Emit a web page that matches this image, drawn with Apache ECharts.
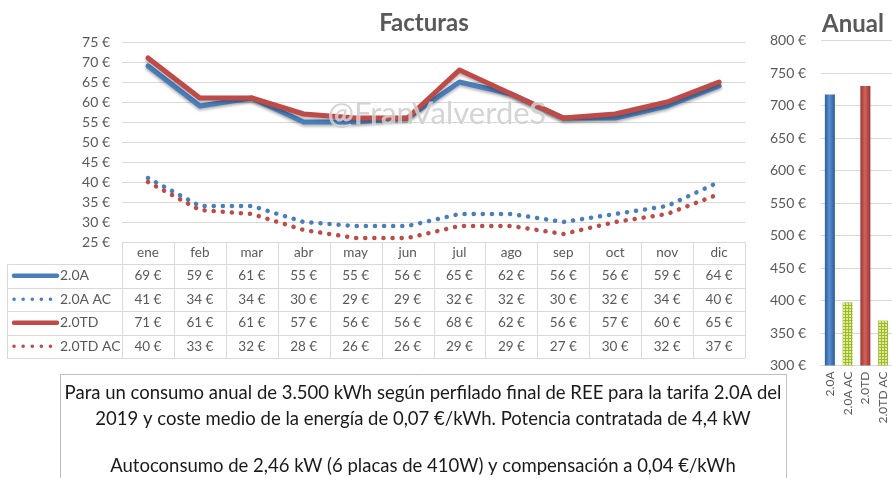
<!DOCTYPE html>
<html>
<head>
<meta charset="utf-8">
<script src="https://cdn.jsdelivr.net/npm/echarts@6/dist/echarts.min.js"></script>
<style>
  html, body { margin: 0; padding: 0; background: #fff; }
  #chart { width: 892px; height: 478px; }
</style>
</head>
<body>
<div id="chart"></div>
<script>
// datos
const months = ['ene', 'feb', 'mar', 'abr', 'may', 'jun', 'jul', 'ago', 'sep', 'oct', 'nov', 'dic'];
const seriesNames = ['2.0A', '2.0A AC', '2.0TD', '2.0TD AC'];
const v20A = [69, 59, 61, 55, 55, 56, 65, 62, 56, 56, 59, 64];
const v20AAC = [41, 34, 34, 30, 29, 29, 32, 32, 30, 32, 34, 40];
const v20TD = [71, 61, 61, 57, 56, 56, 68, 62, 56, 57, 60, 65];
const v20TDAC = [40, 33, 32, 28, 26, 26, 29, 29, 27, 30, 32, 37];
const annualValues = [717, 397, 730, 369];
const noteLines = [
  'Para un consumo anual de 3.500 kWh según perfilado final de REE para la tarifa 2.0A del',
  '2019 y coste medio de la energía de 0,07 €/kWh. Potencia contratada de 4,4 kW',
  'Autoconsumo de 2,46 kW (6 placas de 410W) y compensación a 0,04 €/kWh'
];

const BLUE = '#4a7ebb';
const RED = '#be4b48';
const GREY = '#595959';
const LINE_GREY = '#d9d9d9';
const FONT = 'Lato';

const GRID_L = 122, GRID_W = 623, GRID_T = 42, GRID_H = 200;
const HEAD_H = 22, ROW_H = 23.5, TABLE_X0 = 7;

let chart = echarts.init(document.getElementById('chart'));

// textura de las barras AC
function hatch() {
  let c = document.createElement('canvas');
  c.width = 3; c.height = 3;
  let ctx = c.getContext('2d');
  ctx.fillStyle = '#e4ee76';
  ctx.fillRect(0, 0, 3, 3);
  ctx.fillStyle = '#9ab84a';
  ctx.fillRect(0, 2, 3, 1);
  ctx.fillRect(2, 0, 1, 3);
  return { image: c, repeat: 'repeat' };
}

function cyl(dark, light) {
  return new echarts.graphic.LinearGradient(0, 0, 1, 0, [
    { offset: 0, color: dark },
    { offset: 0.45, color: light },
    { offset: 1, color: dark }
  ]);
}

const solid = (color) => ({ width: 5, color: color, cap: 'round', join: 'round',
  shadowColor: 'rgba(0,0,0,0.3)', shadowBlur: 3, shadowOffsetY: 2 });
const dotted = (color) => ({ width: 4.5, color: color, type: [0.1, 9], cap: 'round' });

const hatchFill = hatch();
const barColors = [cyl('#2c5c98', '#5a8fd0'), hatchFill, cyl('#9a3532', '#d2625e'), hatchFill];

let option = {
  backgroundColor: '#fff',
  animation: false,
  title: [
    { text: 'Facturas', left: 419, top: 6, textAlign: 'center',
      textStyle: { fontFamily: FONT, fontSize: 24, fontWeight: 'bold', color: GREY } },
    { text: 'Anual', left: 848, top: 7, textAlign: 'center',
      textStyle: { fontFamily: FONT, fontSize: 24, fontWeight: 'bold', color: GREY } }
  ],
  grid: [
    { left: GRID_L, top: GRID_T, width: GRID_W, height: GRID_H },
    { left: 821, top: 40.5, width: 74, height: 325 }
  ],
  xAxis: [
    { type: 'category', gridIndex: 0, data: months, boundaryGap: true,
      axisLine: { show: false }, axisTick: { show: false }, axisLabel: { show: false } },
    { type: 'category', gridIndex: 1, data: seriesNames,
      axisLine: { lineStyle: { color: LINE_GREY } }, axisTick: { show: false },
      axisLabel: { rotate: 90, margin: 6, color: GREY, fontFamily: FONT, fontSize: 12 } }
  ],
  yAxis: [
    { type: 'value', gridIndex: 0, min: 25, max: 75, interval: 5,
      axisLine: { show: false }, axisTick: { show: false },
      splitLine: { lineStyle: { color: LINE_GREY } },
      axisLabel: { margin: 12, color: GREY, fontFamily: FONT, fontSize: 14, formatter: '{value} €' } },
    { type: 'value', gridIndex: 1, min: 300, max: 800, interval: 50,
      axisLine: { show: false }, axisTick: { show: false },
      splitLine: { lineStyle: { color: LINE_GREY } },
      axisLabel: { margin: 15, color: GREY, fontFamily: FONT, fontSize: 14, formatter: '{value} €' } }
  ],
  series: [
    { name: '2.0A', type: 'line', data: v20A, symbol: 'none', lineStyle: solid(BLUE), z: 3 },
    { name: '2.0A AC', type: 'line', data: v20AAC, symbol: 'none', lineStyle: dotted(BLUE), z: 3 },
    { name: '2.0TD', type: 'line', data: v20TD, symbol: 'none', lineStyle: solid(RED), z: 4 },
    { name: '2.0TD AC', type: 'line', data: v20TDAC, symbol: 'none', lineStyle: dotted(RED), z: 4 },
    { name: 'Anual', type: 'bar', xAxisIndex: 1, yAxisIndex: 1, barWidth: 10,
      data: annualValues.map((v, i) => ({ value: v, itemStyle: { color: barColors[i] } })) }
  ]
};
chart.setOption(option);

// tabla de datos bajo el gráfico
const tableRows = [v20A, v20AAC, v20TD, v20TDAC];
const rowStyles = [solid(BLUE), dotted(BLUE), solid(RED), dotted(RED)];
const colW = GRID_W / months.length;
const tTop = GRID_T + GRID_H;
const bodyTop = tTop + HEAD_H;
const tBottom = bodyTop + ROW_H * tableRows.length;
const tRight = GRID_L + GRID_W;
const cellText = { fontFamily: FONT, fontSize: 13.5, fill: GREY };
let g = [];
const line = (x1, y1, x2, y2) => g.push({ type: 'line', silent: true, z: 1,
  shape: { x1: x1, y1: y1, x2: x2, y2: y2 }, style: { stroke: LINE_GREY, lineWidth: 1 } });

line(GRID_L, tTop + 0.5, tRight, tTop + 0.5);
for (let r = 0; r <= tableRows.length; r++) {
  let y = Math.round(bodyTop + r * ROW_H) + 0.5;
  line(TABLE_X0, y, tRight, y);
}
line(TABLE_X0 + 0.5, bodyTop, TABLE_X0 + 0.5, tBottom);
for (let i = 0; i <= months.length; i++) {
  let x = Math.round(GRID_L + i * colW) + 0.5;
  line(x, tTop, x, tBottom);
}
months.forEach((m, i) => {
  g.push({ type: 'text', x: GRID_L + (i + 0.5) * colW, y: tTop + HEAD_H / 2,
    style: Object.assign({ text: m, align: 'center', verticalAlign: 'middle' }, cellText) });
});
tableRows.forEach((row, r) => {
  let cy = bodyTop + (r + 0.5) * ROW_H;
  let ls = rowStyles[r];
  g.push({ type: 'line', shape: { x1: 14, y1: cy, x2: 57, y2: cy },
    style: { stroke: ls.color, lineWidth: r % 2 ? 3.5 : 4.5, lineCap: 'round',
      lineDash: r % 2 ? [0.1, 9] : null } });
  g.push({ type: 'text', x: 60, y: cy,
    style: Object.assign({ text: seriesNames[r], align: 'left', verticalAlign: 'middle' }, cellText, { fontSize: 14 }) });
  row.forEach((v, i) => {
    g.push({ type: 'text', x: GRID_L + (i + 0.5) * colW, y: cy,
      style: Object.assign({ text: v + ' €', align: 'center', verticalAlign: 'middle' }, cellText) });
  });
});

// marca de agua
g.push({ type: 'text', x: 437, y: 114, z: 10, silent: true,
  style: { text: '@FranValverdeS', align: 'center', verticalAlign: 'middle',
    fontFamily: FONT, fontSize: 31, fill: 'rgba(205,205,205,0.85)',
    stroke: 'rgba(255,255,255,0.6)', lineWidth: 1 } });

// cuadro de texto
g.push({ type: 'rect', shape: { x: 60.5, y: 374.5, width: 726, height: 120 },
  style: { fill: '#fff', stroke: '#bfbfbf', lineWidth: 1 } });
const noteY = [393, 419, 466];
noteLines.forEach((t, i) => {
  g.push({ type: 'text', x: 423, y: noteY[i],
    style: { text: t, align: 'center', verticalAlign: 'middle', fontFamily: FONT, fontSize: 18.5, fill: '#1a1a1a' } });
});

chart.setOption({ graphic: g });
</script>
</body>
</html>
